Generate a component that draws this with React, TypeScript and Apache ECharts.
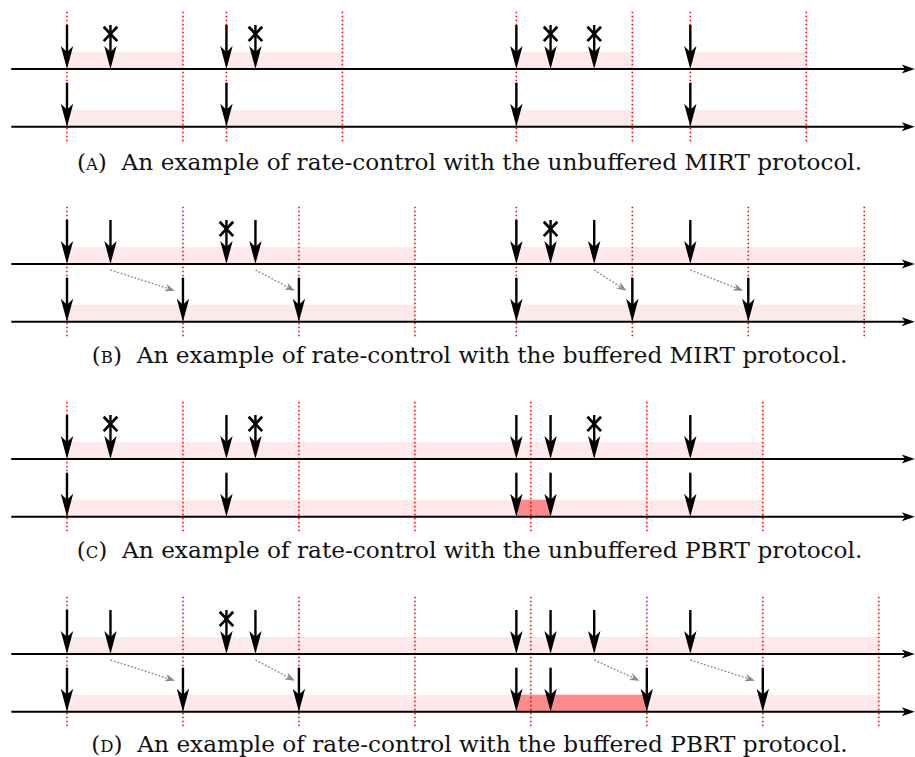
import React, { useEffect, useRef } from "react";
import * as echarts from "echarts";

// ---------- data (time in slot units, row 1 = sender line, row 0 = receiver line) ----------
const captionLetters = ["A", "B", "C", "D"];
const captionTexts = [
  "An example of rate-control with the unbuffered MIRT protocol.",
  "An example of rate-control with the buffered MIRT protocol.",
  "An example of rate-control with the unbuffered PBRT protocol.",
  "An example of rate-control with the buffered PBRT protocol.",
];

// red dotted interval boundaries
const boundsA = [0, 8, 11, 19, 31, 39, 43, 51];
const boundsB = [0, 8, 16, 24, 31, 39, 47, 55];
const boundsC = [0, 8, 16, 24, 32, 40, 48];
const boundsD = [0, 8, 16, 24, 32, 40, 48, 56];

// shaded intervals: [start, end]
const intervalsA = [[0, 8], [11, 19], [31, 39], [43, 51]];
const intervalsB = [[0, 24], [31, 55]];
const intervalsC = [[0, 48]];
const intervalsD = [[0, 56]];

// overflow (dark) interval on the receiver line
const overflowA: number[][] = [];
const overflowB: number[][] = [];
const overflowC = [[31, 33.36]];
const overflowD = [[31, 40]];

// sender arrivals and whether each was dropped
const sentA = [0, 3, 11, 13, 31, 33.36, 36.37, 43];
const droppedA = [0, 1, 0, 1, 0, 1, 1, 0];
const sentB = [0, 3, 11, 13, 31, 33.36, 36.37, 43];
const droppedB = [0, 0, 1, 0, 0, 1, 0, 0];
const sentC = [0, 3, 11, 13, 31, 33.36, 36.37, 43];
const droppedC = [0, 1, 0, 1, 0, 0, 1, 0];
const sentD = [0, 3, 11, 13, 31, 33.36, 36.37, 43];
const droppedD = [0, 0, 1, 0, 0, 0, 0, 0];

// receiver deliveries
const recvA = [0, 11, 31, 43];
const recvB = [0, 8, 16, 31, 39, 47];
const recvC = [0, 11, 31, 33.36, 43];
const recvD = [0, 8, 16, 31, 33.36, 40, 48];

// buffered (delayed) packets: [from, to]
const delayA: number[][] = [];
const delayB = [[3, 7.45], [13, 15.72], [36.37, 38.6], [43, 46.64]];
const delayC: number[][] = [];
const delayD = [[3, 7.45], [13, 15.72], [36.37, 39.5], [43, 47.45]];

const panels = [
  { bounds: boundsA, intervals: intervalsA, overflow: overflowA, sent: sentA, dropped: droppedA, recv: recvA, delay: delayA },
  { bounds: boundsB, intervals: intervalsB, overflow: overflowB, sent: sentB, dropped: droppedB, recv: recvB, delay: delayB },
  { bounds: boundsC, intervals: intervalsC, overflow: overflowC, sent: sentC, dropped: droppedC, recv: recvC, delay: delayC },
  { bounds: boundsD, intervals: intervalsD, overflow: overflowD, sent: sentD, dropped: droppedD, recv: recvD, delay: delayD },
];

// ---------- layout / style constants ----------
const X_MIN = -4;
const X_MAX = 58.5;
const Y_MIN = -0.3;
const Y_MAX = 2.0;
const PANEL_TOP = [11.3, 206.3, 401.3, 596.3];
const GRID_H = 132.7;
const CAPTION_Y = [159, 352, 547, 741];
const AXIS_START = -3.84;
const AXIS_END = 58.48;
const BAND_H = 0.295;
const ARROW_TOP = 0.763;
const CROSS_Y = 0.607;
const MARK_TOP = 1.993;
const MARK_BOT = -0.26;
const DELAY_Y0 = 0.896;
const DELAY_Y1 = 0.537;
const LIGHT = "#fde8ea";
const DARK = "#ff8c8c";
const FONT = "DejaVu Serif";

function renderBand(color: string) {
  return (params: any, api: any) => {
    const s = api.value(0), e = api.value(1), row = api.value(2);
    const p0 = api.coord([s, row + BAND_H]);
    const p1 = api.coord([e, row]);
    return {
      type: "rect",
      shape: { x: p0[0], y: p0[1], width: p1[0] - p0[0], height: p1[1] - p0[1] },
      style: { fill: color },
    };
  };
}

function renderMark(params: any, api: any) {
  const t = api.value(0);
  const a = api.coord([t, MARK_TOP]);
  const b = api.coord([t, MARK_BOT]);
  return {
    type: "line",
    shape: { x1: a[0], y1: a[1], x2: b[0], y2: b[1] },
    style: { stroke: "#ff0000", lineWidth: 1.6, lineDash: [1.6, 2.4] },
  };
}

function renderAxis(params: any, api: any) {
  const row = api.value(1);
  const a = api.coord([AXIS_START, row]);
  const b = api.coord([AXIS_END, row]);
  const y = a[1];
  return {
    type: "group",
    children: [
      { type: "line", shape: { x1: a[0], y1: y, x2: b[0] - 8, y2: y }, style: { stroke: "#000", lineWidth: 2 } },
      {
        type: "polygon",
        shape: { points: [[b[0], y], [b[0] - 13, y - 4.5], [b[0] - 9.5, y], [b[0] - 13, y + 4.5]] },
        style: { fill: "#000" },
      },
    ],
  };
}

function renderEvent(params: any, api: any) {
  const t = api.value(0), row = api.value(1), lost = api.value(2);
  const tip = api.coord([t, row]);
  const top = api.coord([t, row + ARROW_TOP]);
  const HL = 23, HW = 6.2, NOTCH = 17;
  const x = tip[0];
  const children: any[] = [
    { type: "line", shape: { x1: x, y1: top[1], x2: x, y2: tip[1] - NOTCH + 1 }, style: { stroke: "#000", lineWidth: 2.4 } },
    {
      type: "polygon",
      shape: { points: [[x, tip[1]], [x - HW, tip[1] - HL], [x, tip[1] - NOTCH], [x + HW, tip[1] - HL]] },
      style: { fill: "#000" },
    },
  ];
  if (lost) {
    const c = api.coord([t, row + CROSS_Y]);
    const sx = 6.8, sy = 7.2;
    children.push(
      { type: "line", shape: { x1: c[0] - sx, y1: c[1] - sy, x2: c[0] + sx, y2: c[1] + sy }, style: { stroke: "#000", lineWidth: 2.7 } },
      { type: "line", shape: { x1: c[0] - sx, y1: c[1] + sy, x2: c[0] + sx, y2: c[1] - sy }, style: { stroke: "#000", lineWidth: 2.7 } }
    );
  }
  return { type: "group", children };
}

function renderDelay(params: any, api: any) {
  const a = api.coord([api.value(0), DELAY_Y0]);
  const b = api.coord([api.value(1), DELAY_Y1]);
  const dx = b[0] - a[0], dy = b[1] - a[1];
  const len = Math.sqrt(dx * dx + dy * dy);
  const ux = dx / len, uy = dy / len;
  const nx = -uy, ny = ux;
  const HL = 10, HW = 3.8, NOTCH = 7;
  const pt = (d: number, w: number) => [b[0] - ux * d + nx * w, b[1] - uy * d + ny * w];
  return {
    type: "group",
    children: [
      {
        type: "line",
        shape: { x1: a[0], y1: a[1], x2: b[0] - ux * NOTCH, y2: b[1] - uy * NOTCH },
        style: { stroke: "#8a8a8a", lineWidth: 1.4, lineDash: [1.8, 1.8] },
      },
      {
        type: "polygon",
        shape: { points: [[b[0], b[1]], pt(HL, HW), pt(NOTCH, 0), pt(HL, -HW)] },
        style: { fill: "#8a8a8a" },
      },
    ],
  };
}

export default function App() {
  const ref = useRef<HTMLDivElement>(null);
  useEffect(() => {
    if (!ref.current) return;
    const chart = echarts.init(ref.current, null, { renderer: "svg" });
    const grids: any[] = [];
    const xAxes: any[] = [];
    const yAxes: any[] = [];
    const series: any[] = [];
    panels.forEach((p, i) => {
      grids.push({ left: 9, right: -0.25, top: PANEL_TOP[i], height: GRID_H });
      xAxes.push({ type: "value", gridIndex: i, min: X_MIN, max: X_MAX, show: false });
      yAxes.push({ type: "value", gridIndex: i, min: Y_MIN, max: Y_MAX, show: false });
      const common = { type: "custom", xAxisIndex: i, yAxisIndex: i, silent: true };
      const light: number[][] = [];
      p.intervals.forEach(([s, e]) => { light.push([s, e, 1]); light.push([s, e, 0]); });
      series.push({ ...common, name: `band${i}`, renderItem: renderBand(LIGHT), data: light, z: 1 });
      series.push({ ...common, name: `overflow${i}`, renderItem: renderBand(DARK), data: p.overflow.map(([s, e]) => [s, e, 0]), z: 2 });
      series.push({ ...common, name: `bounds${i}`, renderItem: renderMark, data: p.bounds.map((t) => [t, 0]), z: 3 });
      series.push({ ...common, name: `axis${i}`, renderItem: renderAxis, data: [[0, 1], [0, 0]], z: 4 });
      const ev: number[][] = [];
      p.sent.forEach((t, k) => ev.push([t, 1, p.dropped[k]]));
      p.recv.forEach((t) => ev.push([t, 0, 0]));
      series.push({ ...common, name: `events${i}`, renderItem: renderEvent, data: ev, z: 5 });
      series.push({ ...common, name: `delay${i}`, renderItem: renderDelay, data: p.delay, z: 5 });
    });
    const graphic = captionTexts.map((txt, i) => ({
      type: "text",
      x: 469.5,
      y: CAPTION_Y[i],
      style: {
        text: `{n|(}{s|${captionLetters[i]}}{n|)  ${txt}}`,
        align: "center",
        verticalAlign: "middle",
        rich: {
          n: { fontFamily: FONT, fontSize: 23.2, fill: "#111", verticalAlign: "bottom", lineHeight: 28 },
          s: { fontFamily: FONT, fontSize: 16.5, fill: "#111", verticalAlign: "bottom", lineHeight: 28 },
        },
      },
    }));
    chart.setOption({
      animation: false,
      grid: grids,
      xAxis: xAxes,
      yAxis: yAxes,
      series,
      graphic,
    });
    return () => chart.dispose();
  }, []);
  return (
    <div
      ref={ref}
      style={{ position: "fixed", left: 0, top: 0, width: 915, height: 757, background: "#fff" }}
    />
  );
}
